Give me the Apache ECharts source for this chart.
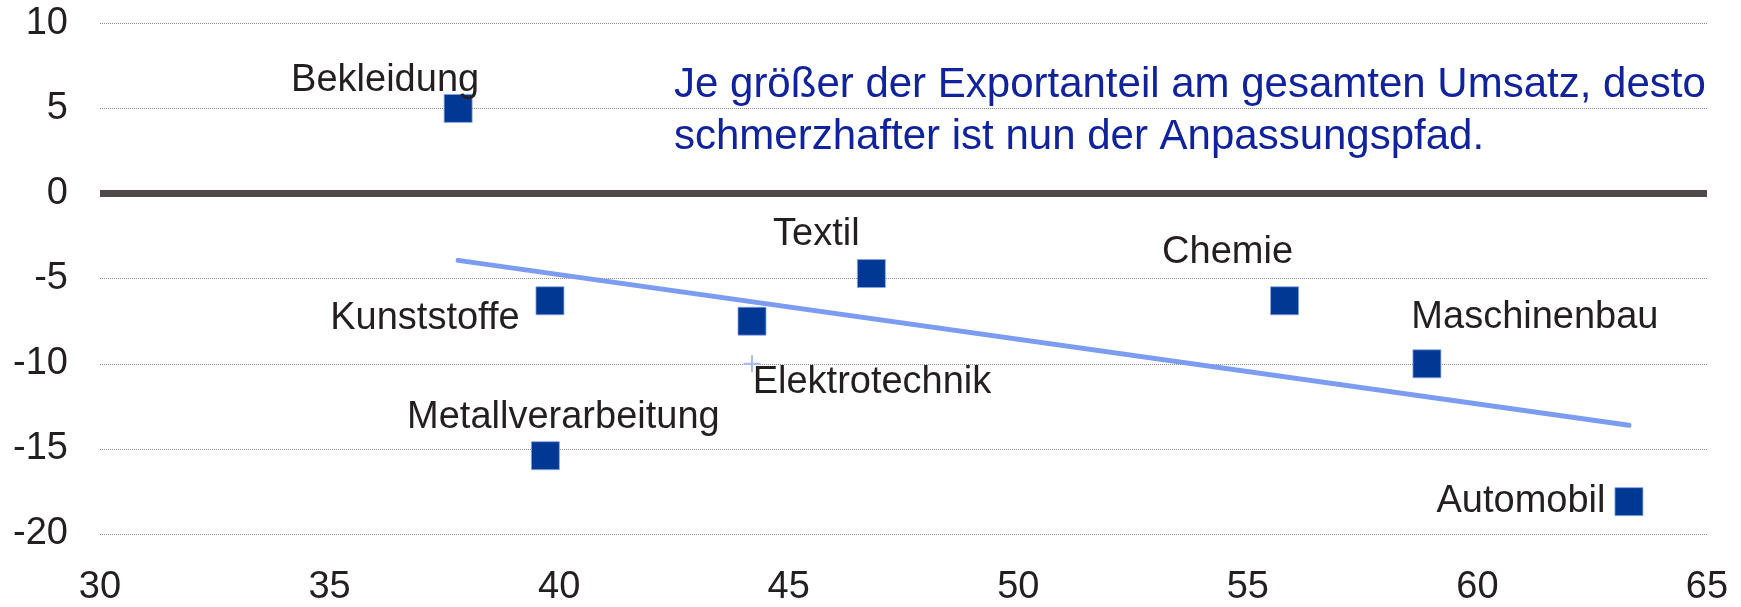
<!DOCTYPE html>
<html>
<head>
<meta charset="utf-8">
<script src="https://cdn.jsdelivr.net/npm/echarts@6/dist/echarts.min.js"></script>
<style>
  html, body { margin: 0; padding: 0; background: #fff; }
  #main { width: 1741px; height: 607px; }
</style>
</head>
<body>
<div id="main"></div>
<script>
// Branchen: Exportanteil am Umsatz (x) und Veränderung (y)
var branchen = ['Bekleidung', 'Kunststoffe', 'Metallverarbeitung', 'Elektrotechnik', 'Textil', 'Chemie', 'Maschinenbau', 'Automobil'];
var exportAnteil = [37.8, 39.8, 39.7, 44.2, 46.8, 55.8, 58.9, 63.3];
var veraenderung = [5.0, -6.3, -15.4, -7.5, -4.7, -6.3, -10.0, -18.1];
// kleines Kreuz neben "Elektrotechnik"
var kreuzPunkt = [44.2, -10];
var xTicks = [30, 35, 40, 45, 50, 55, 60, 65];
var yTicks = [-20, -15, -10, -5, 0, 5, 10];

// Label-Versatz (Pixel) je Branche, relativ zum Punkt
var labelOffsets = [[-73, -28], [-125, 18], [18, -38], [120, 61], [-55, -39], [-57, -48], [108, -46], [-108, 0]];

var font = '"Liberation Sans", Arial, sans-serif';

// lineare Trendlinie (kleinste Quadrate)
function trend(xs, ys) {
  var n = xs.length, mx = 0, my = 0;
  for (var i = 0; i < n; i++) { mx += xs[i]; my += ys[i]; }
  mx /= n; my /= n;
  var sxy = 0, sxx = 0;
  for (var j = 0; j < n; j++) { sxy += (xs[j] - mx) * (ys[j] - my); sxx += (xs[j] - mx) * (xs[j] - mx); }
  var b = sxy / sxx, a = my - b * mx;
  var x0 = Math.min.apply(null, xs), x1 = Math.max.apply(null, xs);
  return [[x0, a + b * x0], [x1, a + b * x1]];
}

var punkte = branchen.map(function (name, i) {
  return {
    name: name,
    value: [exportAnteil[i], veraenderung[i]],
    label: { offset: labelOffsets[i] }
  };
});

var chart = echarts.init(document.getElementById('main'));
chart.setOption({
  animation: false,
  grid: { left: 100, right: 34, top: 23.3, bottom: 71.3, containLabel: false },
  xAxis: {
    type: 'value',
    min: xTicks[0], max: xTicks[xTicks.length - 1], interval: 5,
    axisLine: { show: false },
    axisTick: { show: false },
    splitLine: { show: false },
    axisLabel: { color: '#231f20', fontSize: 38, fontFamily: font, margin: 35 }
  },
  yAxis: {
    type: 'value',
    min: yTicks[0], max: yTicks[yTicks.length - 1], interval: 5,
    axisLine: { show: false },
    axisTick: { show: false },
    splitLine: { lineStyle: { type: 'dotted', color: '#8a8a8a', width: 1 } },
    axisLabel: { color: '#231f20', fontSize: 38, fontFamily: font, margin: 32 }
  },
  series: [
    {
      type: 'line',
      data: trend(exportAnteil, veraenderung),
      showSymbol: false,
      symbol: 'none',
      lineStyle: { color: '#7b9cf0', width: 5, cap: 'round' },
      z: 3,
      markLine: {
        silent: true,
        symbol: 'none',
        label: { show: false },
        lineStyle: { color: '#4e4a4a', width: 7, type: 'solid' },
        data: [{ yAxis: 0 }]
      }
    },
    {
      type: 'scatter',
      data: [kreuzPunkt],
      symbol: 'path://M4.4,0h1.2v4.4h4.4v1.2h-4.4v4.4h-1.2v-4.4h-4.4v-1.2h4.4z',
      symbolSize: 17,
      itemStyle: { color: '#a9bdf2', opacity: 1 },
      z: 5
    },
    {
      type: 'scatter',
      data: punkte,
      symbol: 'rect',
      symbolSize: 28,
      itemStyle: { color: '#003893', borderColor: '#8aa6e8', borderWidth: 0.8, opacity: 1 },
      label: {
        show: true,
        position: 'inside',
        formatter: '{b}',
        color: '#231f20',
        opacity: 1,
        fontSize: 38,
        fontFamily: font
      },
      z: 4
    }
  ],
  graphic: [{
    type: 'text',
    left: 674,
    top: 59,
    style: {
      text: 'Je größer der Exportanteil am gesamten Umsatz, desto\nschmerzhafter ist nun der Anpassungspfad.',
      fill: '#10229c',
      font: '42px ' + font,
      lineHeight: 52
    }
  }]
});
</script>
</body>
</html>
